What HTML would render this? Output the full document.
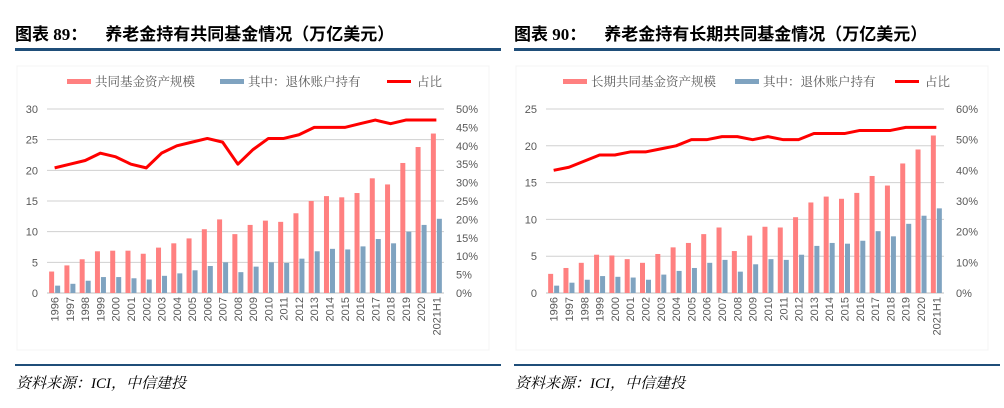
<!DOCTYPE html>
<html><head><meta charset="utf-8"><style>
body{margin:0;background:#fff;}
svg{display:block;font-family:"Liberation Sans","Noto Sans CJK SC",sans-serif;}
</style></head><body>
<svg id="s" width="1004" height="408" viewBox="0 0 1004 408"></svg>
<script>
const categories=["1996","1997","1998","1999","2000","2001","2002","2003","2004","2005","2006","2007","2008","2009","2010","2011","2012","2013","2014","2015","2016","2017","2018","2019","2020","2021H1"];
const fundAssets1=[3.5,4.5,5.5,6.8,6.9,6.9,6.4,7.4,8.1,8.9,10.4,12,9.6,11.1,11.8,11.6,13,15,15.8,15.6,16.3,18.7,17.7,21.2,23.8,26];
const retireHeld1=[1.2,1.5,2,2.6,2.6,2.4,2.2,2.8,3.2,3.7,4.4,5,3.4,4.3,5,4.9,5.6,6.8,7.2,7.1,7.6,8.8,8.1,10,11.1,12.1];
const share1=[34,35,36,38,37,35,34,38,40,41,42,41,35,39,42,42,43,45,45,45,46,47,46,47,47,47];
const fundAssets2=[2.6,3.4,4.1,5.2,5.1,4.6,4.1,5.3,6.2,6.8,8,8.9,5.7,7.8,9,8.9,10.3,12.3,13.1,12.8,13.6,15.9,14.6,17.6,19.5,21.4];
const retireHeld2=[1,1.4,1.8,2.3,2.2,2.1,1.8,2.5,3,3.4,4.1,4.5,2.9,3.9,4.6,4.5,5.2,6.4,6.8,6.7,7.1,8.4,7.7,9.4,10.5,11.5];
const share2=[40,41,43,45,45,46,46,47,48,50,50,51,51,50,51,50,50,52,52,52,53,53,53,54,54,54];
const leftTicks1=[0,5,10,15,20,25,30];
const rightTicks1=[0,5,10,15,20,25,30,35,40,45,50];
const leftTicks2=[0,5,10,15,20,25];
const rightTicks2=[0,10,20,30,40,50,60];

const NS="http://www.w3.org/2000/svg";
const svg=document.getElementById('s');
function mk(tag,attrs,parent,txt){const e=document.createElementNS(NS,tag);for(const k in attrs)e.setAttribute(k,attrs[k]);if(txt!==undefined)e.textContent=txt;(parent||svg).appendChild(e);return e;}

function chart(o){
  const g=mk('g',{});
  
  
  const X0=o.x0,X1=o.x1,YT=109,YB=293;
  const lmax=o.lt[o.lt.length-1],rmax=o.rt[o.rt.length-1];
  const yL=v=>YB-(v/lmax)*(YB-YT);
  const yR=v=>YB-(v/rmax)*(YB-YT);
  const step=(X1-X0)/categories.length;
  const cx=i=>X0+step*(i+0.5);
  const t=mk('text',{x:o.ox,y:40,'font-size':17,'font-weight':'bold',fill:'#000','font-family':'"Liberation Serif","Noto Sans CJK SC",sans-serif'},g);
  
  
  mk('tspan',{},t,o.label);
  mk('tspan',{dx:18},t,o.title);
  const tl=mk('rect',{x:o.ox,y:48,width:486,height:3,fill:'#1f4e79'},g);
  
  
  mk('rect',{x:o.ox+2,y:66,width:472,height:284,fill:'none',stroke:'#f4f4f4'},g);
  o.lt.forEach(v=>{
    const gl=mk('line',{x1:X0,x2:X1,y1:yL(v),y2:yL(v),stroke:v===0?'#bfbfbf':'#d0d0d0','stroke-width':1},g);
    
    
    const tx=mk('text',{x:X0-9,y:yL(v)+4,'font-size':11,fill:'#595959','text-anchor':'end'},g,v);
    
    
  });
  o.rt.forEach(v=>{
    const tx=mk('text',{x:X1+12,y:yR(v)+4,'font-size':11,fill:'#595959'},g,v+'%');
    
    
  });
  const bw=5;
  categories.forEach((c,i)=>{
    const b1=mk('rect',{x:cx(i)-bw-0.5,y:yL(o.a[i]),width:bw,height:YB-yL(o.a[i]),fill:'#ff8080'},g);
    
    
    const b2=mk('rect',{x:cx(i)+0.5,y:yL(o.b[i]),width:bw,height:YB-yL(o.b[i]),fill:'#7fa3c0'},g);
    
    
    const lx=cx(i)+4,ly=297;
    const tx=mk('text',{x:lx,y:ly,'font-size':11,fill:'#595959','text-anchor':'end',transform:`rotate(-90 ${lx} ${ly})`},g,c);
    
    
  });
  const pts=o.s.map((v,i)=>cx(i)+','+yR(v)).join(' ');
  const pl=mk('polyline',{points:pts,fill:'none',stroke:'#ff0000','stroke-width':3,'stroke-linejoin':'round'},g);
  
  
  const lg=mk('g',{},g);
  
  
  const L=o.lx;
  const lf='"Noto Serif CJK SC",serif';
  mk('rect',{x:L,y:79,width:24,height:5,fill:'#ff8080'},lg);
  mk('text',{x:L+28,y:86,'font-size':12.5,fill:'#595959','font-family':lf},lg,o.leg1);
  mk('rect',{x:L+o.g2,y:79,width:24,height:5,fill:'#7fa3c0'},lg);
  mk('text',{x:L+o.g2+28,y:86,'font-size':12.5,fill:'#595959','font-family':lf},lg,'其中：退休账户持有');
  mk('rect',{x:L+o.g3,y:80,width:24,height:3,fill:'#ff0000'},lg);
  mk('text',{x:L+o.g3+30,y:86,'font-size':12.5,fill:'#595959','font-family':lf},lg,'占比');
  const fl=mk('rect',{x:o.ox,y:364,width:486,height:2,fill:'#1f4e79'},g);
  
  
  const src=mk('text',{x:o.ox+1,y:388,'font-size':15,'font-style':'italic',fill:'#000','font-family':'"Liberation Serif","Noto Serif CJK SC",serif'},g,'资料来源：ICI，中信建投');
  
  
}
chart({name:'chart-89',ox:15,x0:47,x1:444,lx:67,g2:153,g3:320,lt:leftTicks1,rt:rightTicks1,a:fundAssets1,b:retireHeld1,s:share1,label:'图表 89：',title:'养老金持有共同基金情况（万亿美元）',leg1:'共同基金资产规模'});
chart({name:'chart-90',ox:514,x0:546,x1:944,lx:563,g2:172,g3:332,lt:leftTicks2,rt:rightTicks2,a:fundAssets2,b:retireHeld2,s:share2,label:'图表 90：',title:'养老金持有长期共同基金情况（万亿美元）',leg1:'长期共同基金资产规模'});
</script>
</body></html>
